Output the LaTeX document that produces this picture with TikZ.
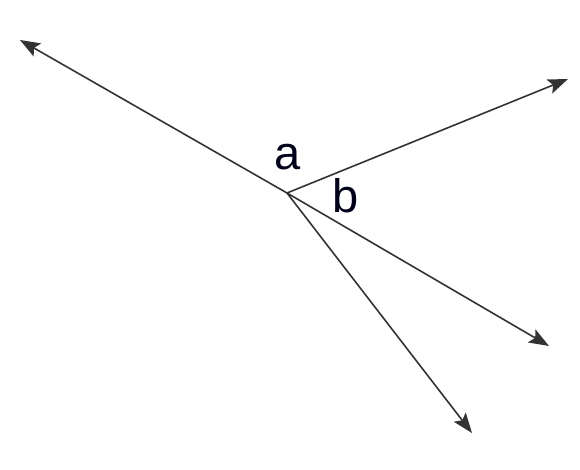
\documentclass[tikz,border=0pt]{standalone}
\usepackage{fontspec}
\setmainfont{Liberation Sans}
\usetikzlibrary{arrows.meta}
\begin{document}
\begin{tikzpicture}[x=1pt,y=-1pt,
  ray/.style={line width=1.6pt,draw=black!80,-{Stealth[length=20pt,width=15pt,inset=4pt]}},
  lbl/.style={font=\fontsize{47}{47}\selectfont,text=black!90!blue,inner sep=0pt}]
\useasboundingbox (0,0) rectangle (580,470);
\coordinate (o) at (287,193);
\coordinate (tl) at (20,40);
\coordinate (tr) at (568,79);
\coordinate (br) at (549,346);
\coordinate (bt) at (472,433);
\draw[ray] (o) -- (tl);
\draw[ray] (o) -- (tr);
\draw[ray] (o) -- (br);
\draw[ray] (o) -- (bt);
\node[lbl] (a) at (288,157) {a};
\node[lbl] (b) at (346,196) {b};
\end{tikzpicture}
\end{document}
